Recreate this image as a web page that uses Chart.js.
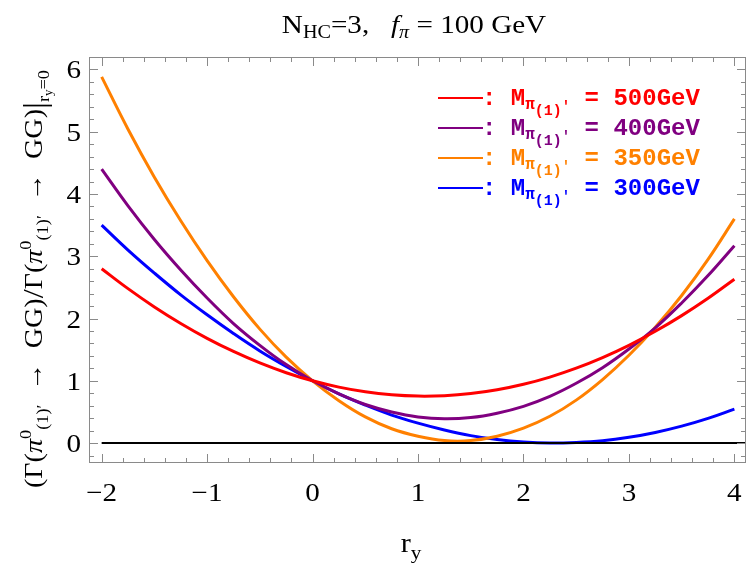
<!DOCTYPE html>
<html>
<head>
<meta charset="utf-8">
<script src="https://cdn.jsdelivr.net/npm/chart.js@4.4.1/dist/chart.umd.min.js"></script>
<style>
  html, body { margin: 0; padding: 0; background: #fff; }
  #wrap { width: 750px; height: 571px; }
</style>
</head>
<body>
<div id="wrap"><canvas id="chart"></canvas></div>
<script>
// r_y sample points and the ratio for each pion mass
const ry = [-2, -1.75, -1.5, -1.25, -1, -0.75, -0.5, -0.25, 0, 0.25, 0.5, 0.75, 1,
  1.25, 1.5, 1.75, 2, 2.25, 2.5, 2.75, 3, 3.25, 3.5, 3.75, 4]
const m500 = [2.800, 2.480, 2.186, 1.921, 1.682, 1.471, 1.287, 1.130, 1.000, 0.898, 0.823, 0.775, 0.754,
  0.761, 0.795, 0.856, 0.944, 1.060, 1.203, 1.373, 1.570, 1.795, 2.047, 2.326, 2.632]
const m400 = [4.40, 3.81, 3.27, 2.78, 2.33, 1.92, 1.57, 1.26, 1.00, 0.79, 0.62, 0.50, 0.42,
  0.39, 0.41, 0.48, 0.59, 0.75, 0.96, 1.21, 1.51, 1.85, 2.25, 2.69, 3.17]
const m350 = [5.88, 5.04, 4.27, 3.57, 2.93, 2.35, 1.83, 1.38, 1.00, 0.68, 0.42, 0.23, 0.11,
  0.04, 0.04, 0.11, 0.24, 0.43, 0.69, 1.02, 1.41, 1.86, 2.37, 2.95, 3.60]
const m300 = [3.50, 3.10, 2.73, 2.38, 2.06, 1.76, 1.48, 1.23, 1.00, 0.79, 0.61, 0.45, 0.32,
  0.21, 0.12, 0.057, 0.017, 0.00, 0.01, 0.038, 0.093, 0.171, 0.272, 0.397, 0.546]

const masses = ['500', '400', '350', '300']
const colors = ['#ff0000', '#800080', '#ff8000', '#0000ff']
const xTicks = [-2, -1, 0, 1, 2, 3, 4]
const yTicks = [0, 1, 2, 3, 4, 5, 6]

const serif = '"Liberation Serif", "Times New Roman", serif'
const mono = '"Liberation Mono", "Courier New", monospace'
const SX = 1.12 // the reference's serif text runs a bit wider than Liberation Serif

// draw a list of text pieces one after another, with baseline shifts
const drawRich = (ctx, segs, x, y, align, sx = 1) => {
  let total = 0
  segs.forEach((s) => {
    ctx.font = s.font
    total += ctx.measureText(s.t).width
  })
  let start = x
  if (align === 'center') start = x - (total * sx) / 2
  if (align === 'right') start = x - total * sx
  ctx.save()
  ctx.translate(start, y)
  ctx.scale(sx, 1)
  ctx.textAlign = 'left'
  ctx.textBaseline = 'alphabetic'
  let cx = 0
  segs.forEach((s) => {
    ctx.font = s.font
    ctx.fillStyle = s.color || '#000'
    ctx.fillText(s.t, cx, s.dy || 0)
    cx += ctx.measureText(s.t).width
  })
  ctx.restore()
}

const fmt = (v) => (v < 0 ? '\u2212' + Math.abs(v) : String(v))

const framePlugin = {
  id: 'frame',
  afterDatasetsDraw(chart) {
    const { ctx, chartArea: a, scales: { x, y } } = chart
    ctx.save()

    // zero line
    const y0 = y.getPixelForValue(0)
    ctx.strokeStyle = '#000'
    ctx.lineWidth = 2
    ctx.beginPath()
    ctx.moveTo(x.getPixelForValue(-2), y0)
    ctx.lineTo(a.right, y0)
    ctx.stroke()

    // frame and inward ticks
    ctx.strokeStyle = '#8a8a8a'
    ctx.lineWidth = 1
    ctx.strokeRect(a.left + 0.5, a.top + 0.5, a.right - a.left - 1, a.bottom - a.top - 1)
    ctx.beginPath()
    for (let i = -11; i <= 21; i++) {
      const v = i / 5
      if (v < x.min || v > x.max) continue
      const px = Math.round(x.getPixelForValue(v)) + 0.5
      const len = i % 5 === 0 ? 9 : 5
      ctx.moveTo(px, a.bottom); ctx.lineTo(px, a.bottom - len)
      ctx.moveTo(px, a.top); ctx.lineTo(px, a.top + len)
    }
    for (let i = -2; i <= 31; i++) {
      const v = i / 5
      if (v < y.min || v > y.max) continue
      const py = Math.round(y.getPixelForValue(v)) + 0.5
      const len = i % 5 === 0 ? 9 : 5
      ctx.moveTo(a.left, py); ctx.lineTo(a.left + len, py)
      ctx.moveTo(a.right, py); ctx.lineTo(a.right - len, py)
    }
    ctx.stroke()

    // tick labels
    const tickFont = '26px ' + serif
    xTicks.forEach((v) => drawRich(ctx, [{ t: fmt(v), font: tickFont }], x.getPixelForValue(v), 501, 'center', SX))
    yTicks.forEach((v) => drawRich(ctx, [{ t: fmt(v), font: tickFont }], 81, y.getPixelForValue(v) + 9, 'right', SX))

    // title
    drawRich(ctx, [
      { t: 'N', font: '26px ' + serif },
      { t: 'HC', font: '18px ' + serif, dy: 5 },
      { t: '=3,   ', font: '26px ' + serif },
      { t: 'f', font: 'italic 26px ' + serif },
      { t: '\u03c0', font: 'italic 18px ' + serif, dy: 5 },
      { t: ' = 100 GeV', font: '26px ' + serif },
    ], 414, 33, 'center', SX)

    // x axis title
    drawRich(ctx, [
      { t: 'r', font: '27px ' + serif },
      { t: 'y', font: '19px ' + serif, dy: 7 },
    ], 411, 552, 'center', SX)

    // y axis title, rotated
    const big = '26px ' + serif
    const sm = '17px ' + serif
    const gam = [
      { t: '\u0393(', font: big },
      { t: '\u03c0', font: 'italic ' + big },
      { t: '0', font: sm, dy: -11 },
      { t: '(1)\u2032', font: sm, dy: 6 },
      { t: '  \u2192  GG)', font: big },
    ]
    ctx.translate(42, 279)
    ctx.rotate(-Math.PI / 2)
    drawRich(ctx, [
      { t: '(', font: big },
      ...gam,
      { t: '/', font: '30px ' + serif, dy: 1 },
      ...gam,
      { t: '|', font: '32px ' + serif, dy: 3 },
      { t: 'r', font: sm, dy: 7 },
      { t: 'y', font: '12px ' + serif, dy: 10 },
      { t: '=0', font: sm, dy: 7 },
    ], 0, 0, 'center', 1.08)
    ctx.setTransform(1, 0, 0, 1, 0, 0)

    // legend
    masses.forEach((m, i) => {
      const yc = 98 + i * 30
      const c = colors[i]
      ctx.strokeStyle = c
      ctx.lineWidth = 2
      ctx.beginPath()
      ctx.moveTo(438, yc); ctx.lineTo(483, yc)
      ctx.stroke()
      drawRich(ctx, [
        { t: ': M', font: 'bold 24px ' + mono, color: c },
        { t: '\u03c0', font: 'bold 16px ' + mono, color: c, dy: 4 },
        { t: '(1)', font: 'bold 15px ' + mono, color: c, dy: 10 },
        { t: '\'', font: 'bold 14px ' + mono, color: c, dy: 6 },
        { t: ' = ' + m + 'GeV', font: 'bold 24px ' + mono, color: c },
      ], 482, yc + 7, 'left')
    })
    ctx.restore()
  },
}

const series = [m500, m400, m350, m300]
const datasets = series.map((vals, i) => ({
  label: masses[i] + 'GeV',
  data: ry.map((r, j) => ({ x: r, y: vals[j] })),
  borderColor: colors[i],
  borderWidth: 3,
  pointRadius: 0,
  tension: 0.4,
  fill: false,
}))

new Chart(document.getElementById('chart'), {
  type: 'line',
  data: { datasets },
  options: {
    responsive: true,
    maintainAspectRatio: false,
    animation: false,
    devicePixelRatio: 1,
    layout: { padding: { left: 89, top: 57, right: 4, bottom: 108 } },
    plugins: { legend: { display: false }, tooltip: { enabled: false } },
    scales: {
      x: { type: 'linear', min: -2.12, max: 4.11, display: false },
      y: { min: -0.32, max: 6.2, display: false },
    },
  },
  plugins: [framePlugin],
})
</script>
</body>
</html>
